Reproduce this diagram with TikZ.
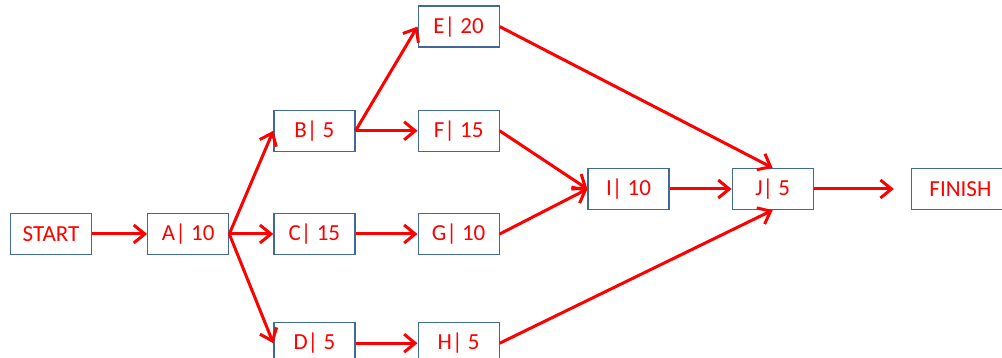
\documentclass[tikz,border=0pt]{standalone}
\usepackage{fontspec}
\setmainfont{Carlito}
\usetikzlibrary{arrows.meta,positioning}
\definecolor{boxline}{RGB}{65,105,150}

\begin{document}
\begin{tikzpicture}[x=1pt,y=1pt,
		task/.style={draw=boxline,line width=1.2pt,fill=white,text=red,minimum width=81pt,minimum height=41pt,inner sep=0pt,font=\fontsize{23}{27}\selectfont},
		link/.style={->,red,line width=3pt},
		>={Straight Barb[length=11pt,width=18pt]}]
		\useasboundingbox (0,0) rectangle (1002,-358);
		\node[task]                      (Start)  at (51,-234) {START};
		\node[task,right=55pt of Start]  (A)      {A| 10};
		\node[task,right=44pt of A]      (C)      {C| 15};
		\node[task,above=61pt of C]      (B)      {B| 5};
		\node[task,below=67pt of C]      (D)      {D| 5};
		\node[task,right=62pt of B]      (F)      {F| 15};
		\node[task,above=62pt of F]      (E)      {E| 20};
		\node[task,right=62pt of C]      (G)      {G| 10};
		\node[task,right=62pt of D]      (H)      {H| 5};
		\node[task]                      (I)      at (628.5,-189) {I| 10};
		\node[task,right=62pt of I]      (J)      {J| 5};
		\node[task,right=97pt of J,minimum width=98pt] (Finish) {FINISH};

		\path[link] (Start)  edge                 (A)
		            (A.east) edge                 (B.west)
		                     edge                 (C)
		                     edge                 (D.west)
		            (B.east) edge                 (E.west)
		                     edge                 (F)
		            (C)      edge                 (G)
		            (D)      edge                 (H)
		            (E.east) edge                 (J.north)
		            (F.east) edge                 (I.west)
		            (G.east) edge                 (I.west)
		            (H.east) edge                 (J.south)
		            (I)      edge                 (J)
		            (J)      edge[shorten >=17pt] (Finish);
	\end{tikzpicture}
\end{document}
